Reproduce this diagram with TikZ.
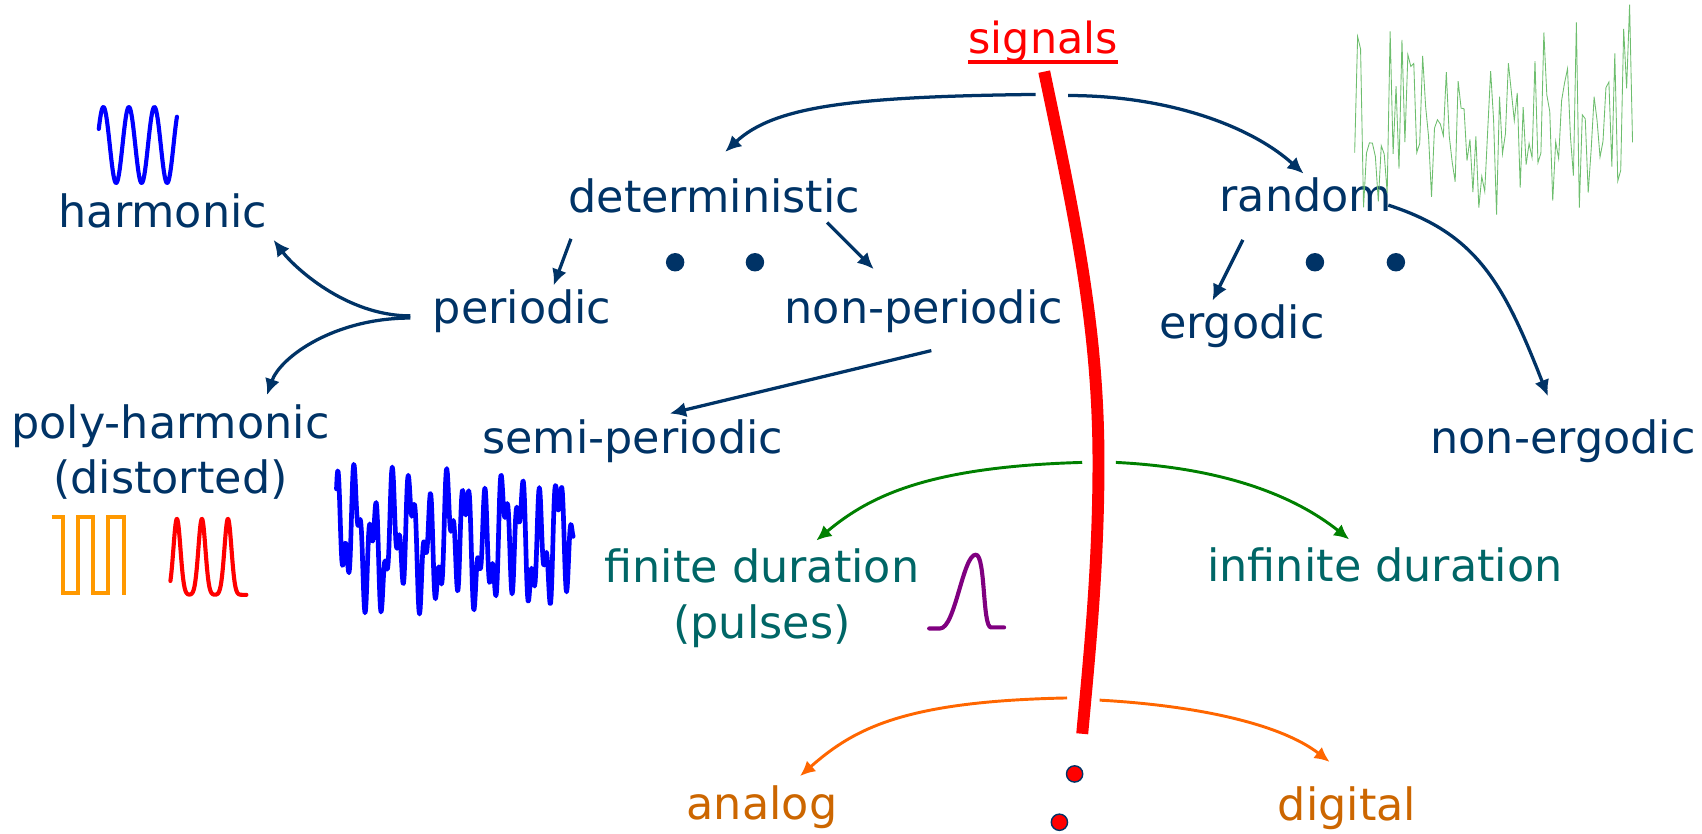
\documentclass[tikz,border=0pt]{standalone}
\usepackage{fontspec}
\setmainfont{DejaVu Sans}
\usetikzlibrary{arrows.meta,calc}
\definecolor{navy}{RGB}{0,51,102}
\definecolor{durteal}{RGB}{0,102,102}
\definecolor{kindochre}{RGB}{204,102,0}
\definecolor{sigred}{RGB}{255,0,0}
\definecolor{arrgreen}{RGB}{0,128,0}
\definecolor{arrorange}{RGB}{255,102,0}
\definecolor{sqorange}{RGB}{255,153,0}
\definecolor{pulsepurple}{RGB}{128,0,128}
\definecolor{noisegreen}{RGB}{110,190,110}

\begin{document}
\begin{tikzpicture}[x=1pt,y=-1pt,
  lbl/.style={inner sep=0pt,anchor=base,text=navy,font=\fontsize{41}{51}\selectfont},
  durlbl/.style={lbl,text=durteal},
  kindlbl/.style={lbl,text=kindochre},
  navarr/.style={draw=navy,line width=3pt,-{Latex[length=15pt,width=14pt]}},
  grnarr/.style={draw=arrgreen,line width=2.7pt,-{Latex[length=14pt,width=13pt]}},
  orgarr/.style={draw=arrorange,line width=2.7pt,-{Latex[length=14pt,width=13pt]}},
  wave/.style={line width=3.8pt,line join=round,line cap=round},
  dotnode/.style={circle,fill=navy,inner sep=0pt,minimum size=17pt},
  reddot/.style={circle,fill=sigred,draw=navy,line width=1.3pt,inner sep=0pt,minimum size=15pt}]
\useasboundingbox (0,0) rectangle (1568,768);

\node[lbl,text=sigred,font=\fontsize{39.5}{48}\selectfont] (sig) at (961,49) {signals};
\draw[sigred,line width=3.8pt] ($(sig.base west)+(0,8)$) -- ($(sig.base east)+(0,8)$);
\draw[sigred,line width=11pt] ($(sig.base)+(1,17)$) .. controls (990,200) and (1012,300) .. (1012,426) .. controls (1012,520) and (1004,600) .. (997,676);
\coordinate (bar1) at (967,87);
\coordinate (bar2) at (1012,426);
\coordinate (bar3) at (1000,644);

\node[lbl] (har) at (150,210) {harmonic};
\node[lbl] (det) at (658,196) {deterministic};
\node[lbl] (rnd) at (1203,195) {random};
\node[lbl] (per) at (481,298) {periodic};
\node[lbl] (nper) at (851,298) {non-periodic};
\node[lbl] (erg) at (1144,312) {ergodic};
\node[lbl,align=center] (poly) at (157,455) {poly-harmonic\\(distorted)};
\node[lbl] (semi) at (583,418) {semi-periodic};
\node[lbl] (nerg) at (1440,418) {non-ergodic};
\node[durlbl,align=center] (fin) at (702,588) {finite duration\\(pulses)};
\node[durlbl] (inf) at (1276,536) {infinite duration};
\node[kindlbl] (ana) at (702,755) {analog};
\node[kindlbl] (dig) at (1241,756) {digital};

\node[dotnode] (dd1) at (622,241.6) {};
\node[dotnode] (dd2) at (695.5,241.6) {};
\node[dotnode] (rd1) at (1211.4,241.6) {};
\node[dotnode] (rd2) at (1286,241.6) {};
\node[reddot] (sd1) at (990,713) {};
\node[reddot] (sd2) at (976,757.5) {};

\draw[navarr] ($(bar1)+(-13,0)$) .. controls +(-170,2) and +(45,-42) .. ($(det.base)+(10,-56)$);
\draw[navarr] ($(bar1)+(17,1)$) .. controls +(90,0) and +(-50,-45) .. ($(rnd.base)+(-2,-35)$);
\draw[navarr] ($(det.base)+(-132,24)$) -- ($(per.base)+(29,-35)$);
\draw[navarr] ($(det.base)+(104,9)$) -- ($(nper.base)+(-46,-50)$);
\draw[navarr] ($(per.base)+(-103,-7)$) .. controls +(-60,0) and +(18,24) .. ($(har.base)+(102,11)$);
\draw[navarr] ($(per.base)+(-103,-5)$) .. controls +(-70,0) and +(12,-35) .. ($(poly.base)+(89,-91)$);
\draw[navarr] ($(nper.base)+(7,25)$) -- ($(semi.base)+(34,-37)$);
\draw[navarr] ($(rnd.base)+(-58,26)$) -- ($(erg.base)+(-27,-35)$);
\draw[navarr] ($(rnd.base)+(76,-6)$) .. controls +(81,26) and +(-41,-105) .. ($(nerg.base)+(-14,-53)$);
\draw[grnarr] ($(bar2)+(-15,0)$) .. controls +(-140,4) and +(50,-42) .. ($(fin.base)+(50,-90)$);
\draw[grnarr] ($(bar2)+(16,0)$) .. controls +(100,5) and +(-50,-40) .. ($(inf.base)+(-33,-39)$);
\draw[orgarr] ($(bar3)+(-17,-1)$) .. controls +(-150,3) and +(50,-44) .. ($(ana.base)+(35,-40)$);
\draw[orgarr] ($(bar3)+(13,1)$) .. controls +(90,5) and +(-45,-35) .. ($(dig.base)+(-16,-54)$);

\draw[wave,blue] plot[domain=91:163,samples=150] (\x,{133.6-35*sin(15.32*(\x-91)+25)});
\draw[wave,sqorange,line cap=butt,line join=miter] (47.6,476) -- (58.3,476) -- (58.3,546.6) -- (72.2,546.6) -- (72.2,476) -- (86,476) -- (86,546.6) -- (99.8,546.6) -- (99.8,476) -- (114.3,476) -- (114.3,546.6) -- (116,546.6);
\draw[wave,sigred] plot[domain=157:227,samples=150] (\x,{548-70*(exp(-min(((\x-163)/4.6)^2,20))+exp(-min(((\x-186)/4.6)^2,20))+exp(-min(((\x-210)/4.6)^2,20)))});
\draw[wave,blue,line width=4.3pt] plot[domain=310:528,samples=400] (\x,{498-40*sin(21.2*(\x-310)+80)-24*sin(50.5*(\x-310)+20)-15*sin(7.3*(\x-310))});
\draw[wave,pulsepurple] (856,579) -- (866,579) .. controls (880,579) and (887,511) .. (899,511) .. controls (908,511) and (905,578) .. (913,578) -- (925,578);
\pgfmathsetseed{1702}
\draw[noisegreen,line width=0.8pt] plot[domain=1248:1504,samples=95] (\x,{128+64*(rand+rand)});
\end{tikzpicture}
\end{document}
